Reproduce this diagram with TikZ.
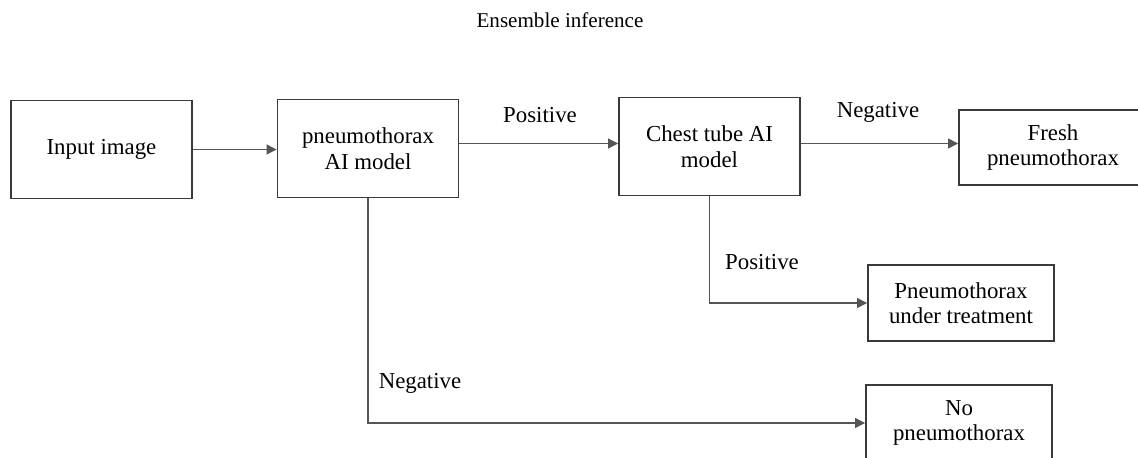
\documentclass[tikz,border=0pt]{standalone}
\usepackage{fontspec}
\setmainfont{Liberation Serif}
\usepackage{xcolor}
\usetikzlibrary{arrows.meta,positioning}
\definecolor{Line}{HTML}{3A3A3A}
\definecolor{Conn}{HTML}{555555}

\begin{document}
\begin{tikzpicture}[x=0.02cm,y=-0.02cm,
b/.style={draw=Line,line width=1.1pt,fill=white,minimum width=3.62cm,minimum height=1.96cm,align=center,inner sep=0pt,font=\fontsize{13}{14.5}\selectfont},
a/.style={-{Triangle[length=0.2cm,width=0.2cm]},line width=0.7pt,draw=Conn},
lbl/.style={font=\fontsize{13}{14.5}\selectfont,inner sep=0pt}]
\clip (0,0) rectangle (1138,457);
\node[lbl,font=\fontsize{12}{14}\selectfont] (title) at (560,20) {Ensemble inference};
\node[b] (inp) at (101.5,149.5) {Input image};
\node[b] (pam) at (368,148.5) {pneumothorax\\AI model};
\node[b] (ctm) at (709.5,146.5) {Chest tube AI\\model};
\node[b,minimum width=3.76cm,minimum height=1.5cm] (fresh) at (1053,147.5) {Fresh\\pneumothorax};
\node[b,minimum width=3.72cm,minimum height=1.52cm] (treat) at (961,303) {Pneumothorax\\under treatment};
\node[b,minimum width=3.72cm,minimum height=1.52cm] (nopn) at (959,423) {No\\pneumothorax};
\draw[a] (inp.east) -- (inp.east -| pam.west);
\draw[a] ([yshift=0.1cm]pam.east) -- ([yshift=0.1cm]pam.east -| ctm.west);
\draw[a] ([yshift=0.06cm]ctm.east) -- ([yshift=0.06cm]ctm.east -| fresh.west);
\draw[a] (ctm.south) |- (treat.west);
\draw[a] (pam.south) |- (nopn.west);
\node[lbl] (pos1) at (540,115) {Positive};
\node[lbl] (neg1) at (878,112) {Negative};
\node[lbl] (pos2) at (762,262) {Positive};
\node[lbl] (neg2) at (420,383) {Negative};
\end{tikzpicture}
\end{document}
